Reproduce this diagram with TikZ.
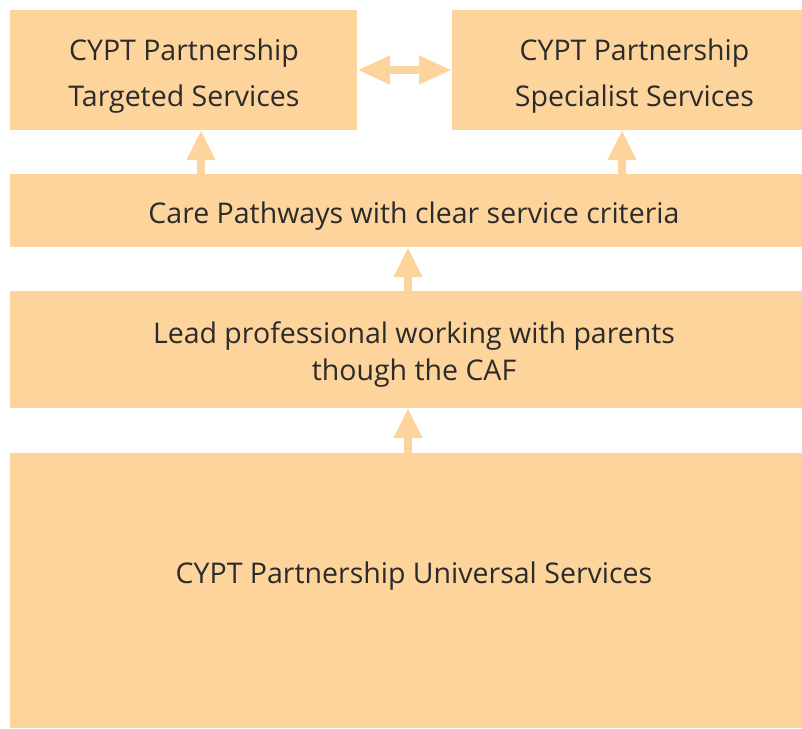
\documentclass[tikz,border=0pt]{standalone}
\usepackage{fontspec}
\setmainfont{Open Sans}
\usetikzlibrary{arrows.meta}
\definecolor{peach}{HTML}{FDD59C}
\definecolor{inktext}{HTML}{2B2B2B}
\tikzset{
  panel/.style={fill=peach, draw=none, inner sep=0pt},
  caption/.style={text=inktext, inner sep=0pt, align=center,
    font=\fontsize{28.5}{46}\selectfont},
  tightcaption/.style={caption, font=\fontsize{28.5}{37}\selectfont},
  uparrow/.style={draw=peach, line width=8pt,
    -{Triangle[width=27pt,length=30pt]}},
  bothways/.style={draw=peach, line width=8pt,
    {Triangle[width=27pt,length=33pt]}-{Triangle[width=27pt,length=33pt]}}
}
\begin{document}
\begin{tikzpicture}[x=1pt,y=-1pt]
  \useasboundingbox (0,0) rectangle (802,728);
  % boxes
  \node[panel, minimum width=347pt, minimum height=120pt] (targeted) at (183.5,70) {};
  \node[panel, minimum width=350pt, minimum height=120pt] (specialist) at (627,70) {};
  \node[panel, minimum width=792pt, minimum height=73pt] (pathways) at (406,210.5) {};
  \node[panel, minimum width=792pt, minimum height=117pt] (lead) at (406,349.5) {};
  \node[panel, minimum width=792pt, minimum height=275pt] (universal) at (406,590.5) {};
  % box texts
  \node[caption] (targetedtext) at (184,75.8) {CYPT Partnership\\Targeted Services};
  \node[caption] (specialisttext) at (634.5,75.8) {CYPT Partnership\\Specialist Services};
  \node[caption] (pathwaystext) at (414,215.8) {Care Pathways with clear service criteria};
  \node[tightcaption] (leadtext) at (414,354.3) {Lead professional working with parents\\though the CAF};
  \node[caption] (universaltext) at (414,575.8) {CYPT Partnership Universal Services};
  % connectors
  \draw[bothways] (targeted.east) -- (specialist.west);
  \draw[uparrow] (pathways.north -| 201,0) -- (targeted.south -| 201,0);
  \draw[uparrow] (pathways.north -| 622,0) -- (specialist.south -| 622,0);
  \draw[uparrow] (lead.north -| 408,0) -- (pathways.south -| 408,0);
  \draw[uparrow] (universal.north -| 408,0) -- (lead.south -| 408,0);
\end{tikzpicture}
\end{document}
